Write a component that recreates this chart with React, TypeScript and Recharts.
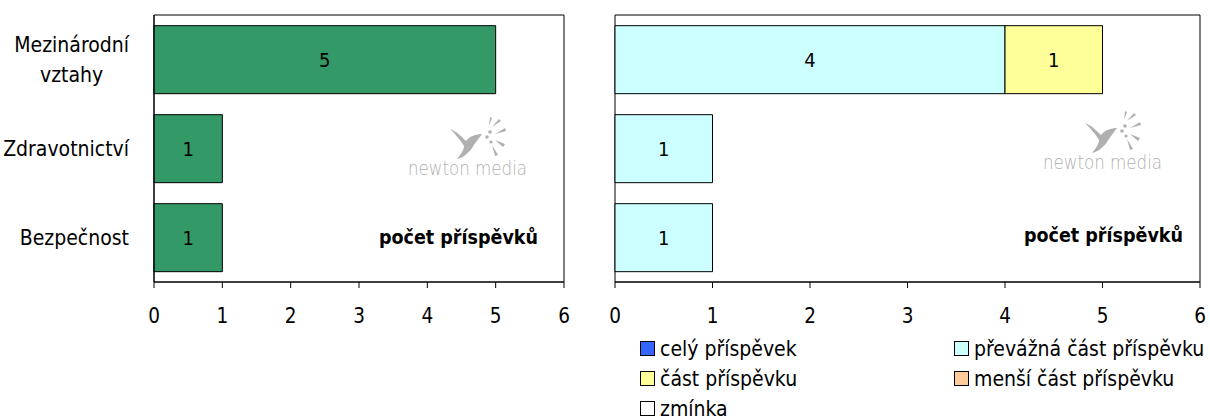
import React from 'react';
import { BarChart, Bar, XAxis, YAxis, ReferenceArea, LabelList } from 'recharts';

const FONT = '"DejaVu Sans Condensed", "DejaVu Sans", sans-serif';

const categories = ['Mezinárodní vztahy', 'Zdravotnictví', 'Bezpečnost'];
const countValues = [5, 1, 1];

const seriesNames = ['celý příspěvek', 'převážná část příspěvku', 'část příspěvku', 'menší část příspěvku', 'zmínka'];
const seriesColors = ['#3366FF', '#CCFFFF', '#FFFF99', '#FFCC99', '#FFFFFF'];
const celyValues = [0, 0, 0];
const prevaznaValues = [4, 1, 1];
const castValues = [1, 0, 0];
const mensiValues = [0, 0, 0];
const zminkaValues = [0, 0, 0];

const xTicks = [0, 1, 2, 3, 4, 5, 6];
const axisTitle = 'počet příspěvků';
const watermark = 'newton media';

const leftData = categories.map((c, i) => ({ cat: c, count: countValues[i] }));
const rightSeries = [celyValues, prevaznaValues, castValues, mensiValues, zminkaValues];
const rightData = categories.map((c, i) => {
  const row: any = { cat: c };
  seriesNames.forEach((s, k) => { row['s' + k] = rightSeries[k][i]; });
  return row;
});

const TICK_FS = 20.5;

let ctx: CanvasRenderingContext2D | null = null;
function measure(t: string, size: number) {
  if (!ctx) ctx = document.createElement('canvas').getContext('2d');
  if (!ctx) return t.length * size * 0.5;
  ctx.font = `${size}px ${FONT}`;
  return ctx.measureText(t).width;
}

const CatTick = (props: any) => {
  const { x, y, payload } = props;
  const size = 21;
  const text: string = payload.value;
  const lines = text.length > 14 ? text.split(' ') : [text];
  const maxW = Math.max(...lines.map((l) => measure(l, size)));
  const right = x - 17;
  const cx = right - maxW / 2;
  const lh = 30;
  const start = y - ((lines.length - 1) * lh) / 2;
  return (
    <g>
      {lines.map((l, i) => (
        <text key={i} x={cx} y={start + i * lh} dy="0.35em" textAnchor="middle" fontSize={size} fontFamily={FONT} fill="#000">
          {l}
        </text>
      ))}
    </g>
  );
};

const nz = (v: any) => (v ? v : '');

const Bird = ({ x, y }: { x: number; y: number }) => (
  <g transform={`translate(${x},${y})`} fill="#a8a8a8" opacity={0.9}>
    <path d="M0,6 C6,8 12,14 16,18 C20,13 26,11 32,11 C29,15 25,20 22,25 C18,31 12,35 7,36 C11,31 14,27 14,23 C10,16 4,10 0,6 Z" />
    <circle cx="37" cy="14" r="1.8" />
    <circle cx="40" cy="9" r="1.8" />
    <circle cx="41" cy="19" r="1.6" />
    <path d="M42,4 L49,-4 L51,-2 Z" />
    <path d="M45,11 L55,5 L56,8 Z" />
    <path d="M45,17 L55,21 L53,24 Z" />
    <path d="M42,22 L48,32 L45,33 Z" />
    <path d="M39,3 L40,-6 L42,-5 Z" />
  </g>
);

const Watermark = ({ x, y }: { x: number; y: number }) => (
  <g>
    <Bird x={x + 42} y={y - 52} />
    <text x={x} y={y} textLength={119} lengthAdjust="spacingAndGlyphs" fontSize={20} fontFamily="'DejaVu Sans', sans-serif" fontWeight={200} fill="#b0b0b0">{watermark}</text>
  </g>
);

export default function App() {
  return (
    <div style={{ position: 'absolute', left: 0, top: 0, width: 1210, height: 419, background: '#fff', fontFamily: FONT, overflow: 'hidden' }}>
      <div style={{ position: 'absolute', left: 0, top: 0 }}>
        <BarChart width={600} height={340} data={leftData} layout="vertical" margin={{ top: 15, right: 36, left: 0, bottom: 28 }} barCategoryGap="12%">
          <XAxis type="number" domain={[0, 6]} ticks={xTicks} tickSize={6} tickMargin={20} height={30} stroke="#000" tick={{ fontSize: TICK_FS, fontFamily: FONT, fill: '#000' }} interval={0} />
          <YAxis type="category" dataKey="cat" width={154} tickLine={false} axisLine={{ stroke: '#000' }} tick={<CatTick />} interval={0} />
          <ReferenceArea x1={0} x2={6} fill="none" stroke="#000" strokeWidth={1} ifOverflow="visible" />
          <Bar dataKey="count" fill="#339966" stroke="#000" strokeWidth={1} isAnimationActive={false}>
            <LabelList dataKey="count" position="center" fontSize={20} fontFamily={FONT} fill="#000" formatter={nz} />
          </Bar>
        </BarChart>
      </div>
      <div style={{ position: 'absolute', left: 600, top: 0 }}>
        <BarChart width={610} height={340} data={rightData} layout="vertical" margin={{ top: 15, right: 10, left: 15, bottom: 28 }} barCategoryGap="12%">
          <XAxis type="number" domain={[0, 6]} ticks={xTicks} tickSize={6} tickMargin={20} height={30} stroke="#000" tick={{ fontSize: TICK_FS, fontFamily: FONT, fill: '#000' }} interval={0} />
          <YAxis type="category" dataKey="cat" hide />
          <ReferenceArea x1={0} x2={6} fill="none" stroke="#000" strokeWidth={1} ifOverflow="visible" />
          {seriesNames.map((s, k) => (
            <Bar key={s} dataKey={'s' + k} name={s} stackId="a" fill={seriesColors[k]} stroke="#000" strokeWidth={1} isAnimationActive={false}>
              <LabelList dataKey={'s' + k} position="center" fontSize={20} fontFamily={FONT} fill="#000" formatter={nz} />
            </Bar>
          ))}
        </BarChart>
      </div>
      <svg width={1210} height={419} style={{ position: 'absolute', left: 0, top: 0, pointerEvents: 'none' }}>
        <Watermark x={408} y={175} />
        <Watermark x={1043} y={169} />
        <text x={538} y={244} textAnchor="end" fontSize={19.5} fontWeight="bold" fontFamily={FONT} fill="#000">{axisTitle}</text>
        <text x={1183} y={242} textAnchor="end" fontSize={19.5} fontWeight="bold" fontFamily={FONT} fill="#000">{axisTitle}</text>
      </svg>
      {seriesNames.map((s, k) => {
        const col = k % 2;
        const row = Math.floor(k / 2);
        return (
          <div key={s} style={{ position: 'absolute', left: col === 0 ? 640 : 954, top: 338.5 + row * 30, height: 20, display: 'flex', alignItems: 'center', whiteSpace: 'nowrap', fontSize: 21, fontFamily: FONT, lineHeight: '20px' }}>
            <span style={{ display: 'inline-block', boxSizing: 'border-box', width: 15, height: 15, border: '1px solid #000', background: seriesColors[k], marginRight: 5 }} />
            {s}
          </div>
        );
      })}
    </div>
  );
}
